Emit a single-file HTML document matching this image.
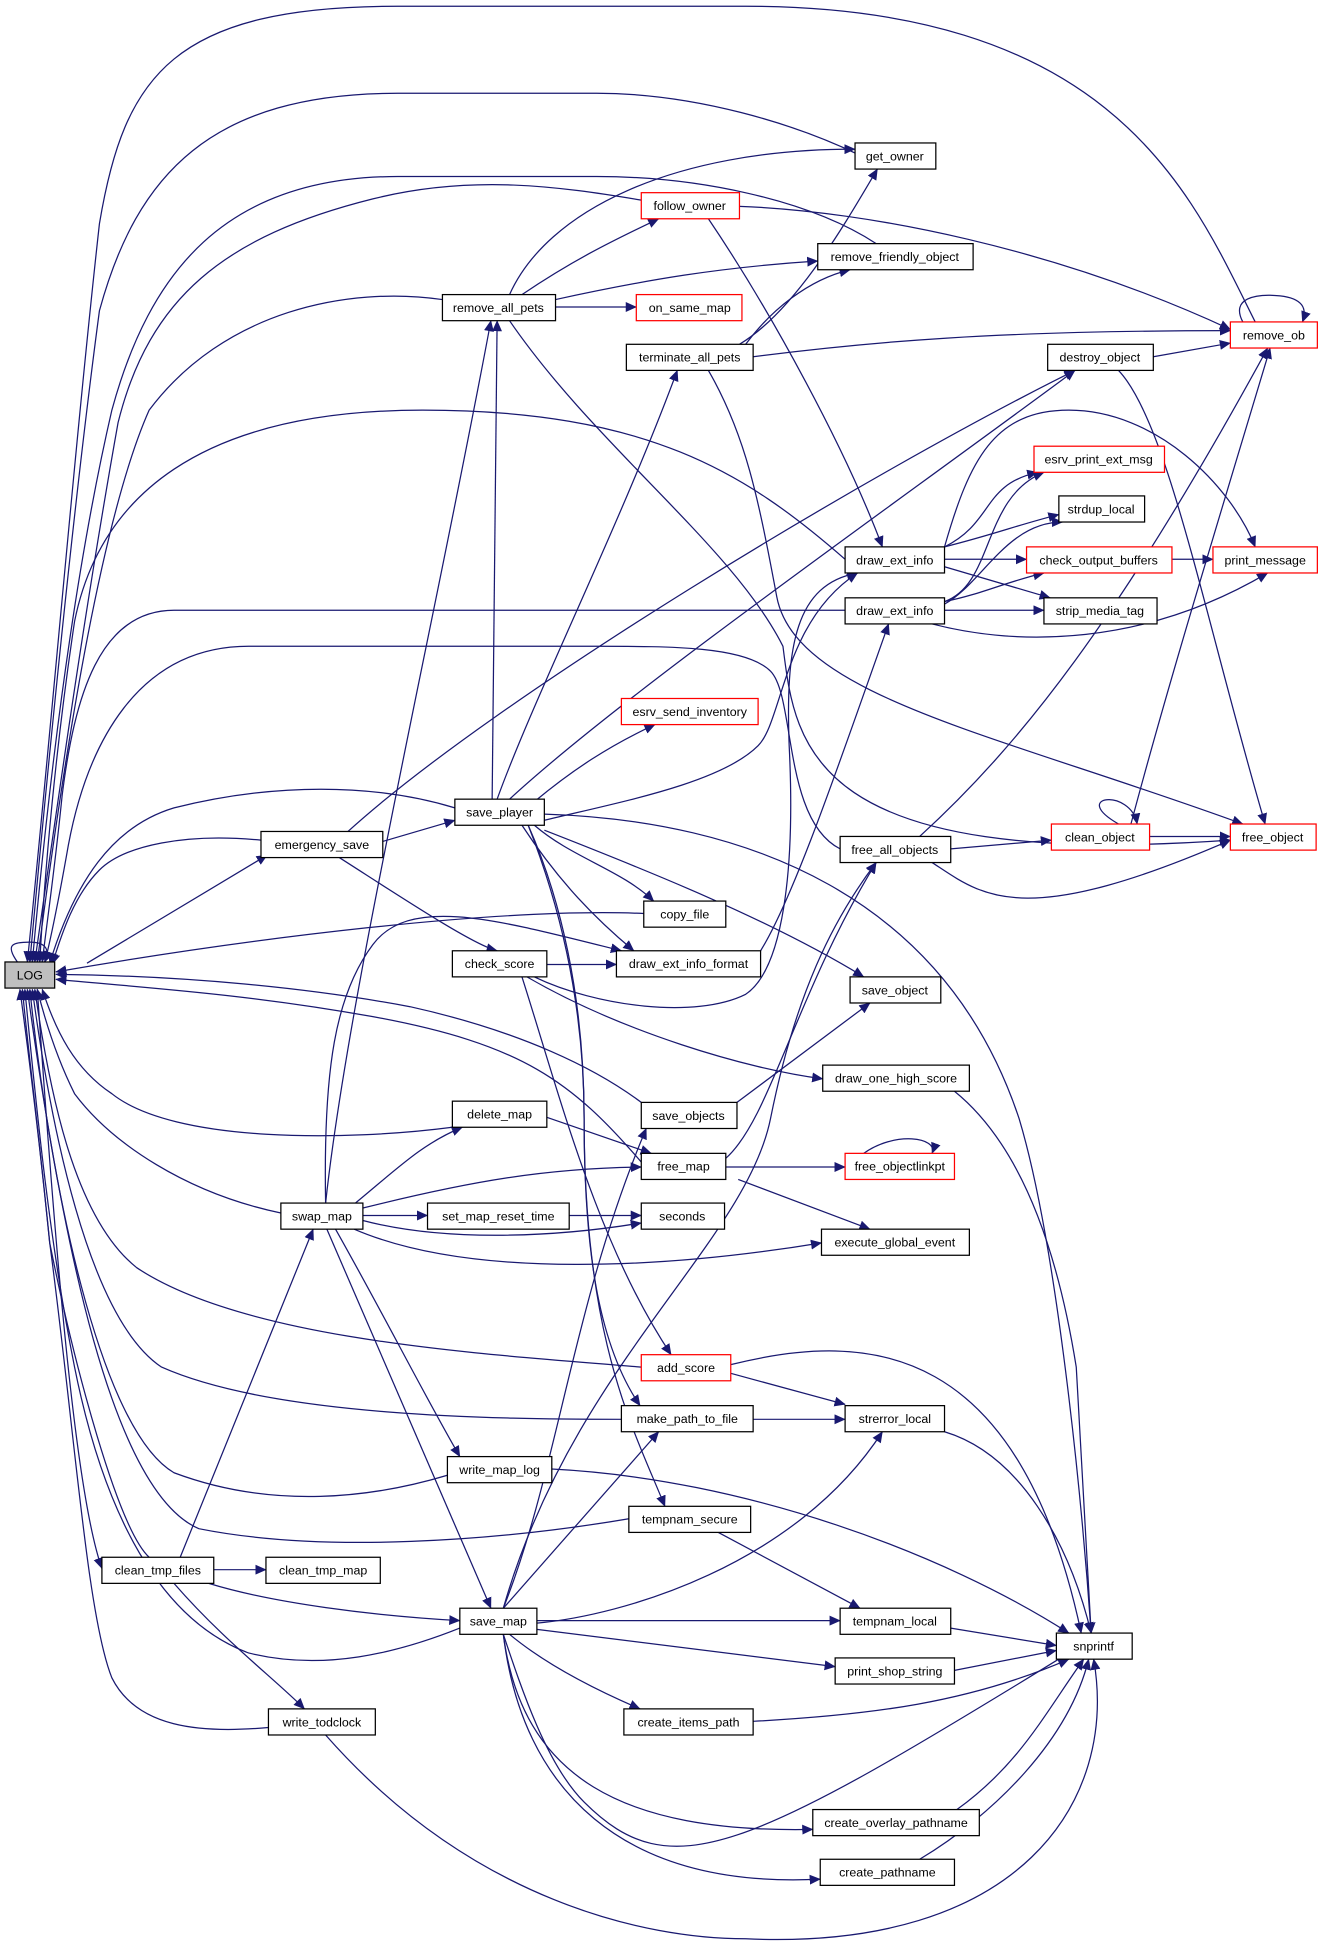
<!DOCTYPE html>
<html><head><meta charset="utf-8"><style>
html,body{margin:0;padding:0;background:#fff;}
svg{display:block;}
text{font-family:"Liberation Sans",Arial,sans-serif;font-size:10px;fill:#000;text-anchor:middle;}
.e{fill:none;stroke:#191970;stroke-width:1;}
.n{fill:#fff;stroke:#000;stroke-width:1;}
.r{fill:#fff;stroke:#ff0000;stroke-width:1;}
</style></head><body>
<svg width="1336" height="1955" viewBox="0 0 1075 1573" xmlns="http://www.w3.org/2000/svg">
<defs><marker id="a" markerWidth="9" markerHeight="8" refX="8.5" refY="4" orient="auto" markerUnits="userSpaceOnUse"><path d="M0,0 L9,4 L0,8 z" fill="#191970"/></marker></defs>
<g class="e" marker-end="url(#a)">
<!-- into LOG -->
<path d="M1010,259 C960,160 900,5 600,5 L320,5 C140,5 100,60 80,180 C60,360 40,600 22,774"/>
<path d="M690,124 C640,100 560,75 480,75 L320,75 C170,75 110,140 80,250 C60,400 40,600 24,774"/>
<path d="M705,196 C650,160 560,142 480,142 L320,142 C180,142 120,220 90,330 C60,460 40,620 26,774"/>
<path d="M516,161 C450,150 380,140 300,160 C180,190 120,240 95,340 C70,480 50,620 28,774"/>
<path d="M356,241 C280,230 180,250 120,330 C80,420 50,620 30,774"/>
<path d="M680,450 C600,380 520,330 340,330 C160,330 80,400 60,500 C45,600 36,700 32,774"/>
<path d="M680,491 L140,491 C80,491 60,560 50,640 C44,700 38,740 34,774"/>
<path d="M676,683 C630,660 640,560 620,540 C600,520 540,520 480,520 L200,520 C110,520 70,600 55,680 C48,720 40,760 36,774"/>
<path d="M366,650 C300,630 220,630 140,650 C90,665 60,710 40,775"/>
<path d="M210,676 C150,670 100,680 80,700 C60,720 50,750 42,776"/>
<path d="M518,735 C400,730 200,755 45,782"/>
<path d="M516,887 C480,860 420,830 330,810 C250,795 150,785 45,784"/>
<path d="M516,935 C460,870 420,840 300,818 C200,800 120,795 45,788"/>
<path d="M364,907 C280,918 140,920 90,880 C60,860 45,830 34,796"/>
<path d="M226,976 C150,960 90,920 60,880 C45,850 36,820 30,796"/>
<path d="M516,1100 C400,1090 200,1080 110,1020 C60,980 40,880 28,796"/>
<path d="M500,1142 C400,1142 220,1140 130,1100 C70,1060 40,900 26,796"/>
<path d="M360,1187 C300,1205 220,1215 140,1185 C80,1150 40,950 24,796"/>
<path d="M506,1222 C400,1240 260,1250 160,1230 C90,1200 50,1000 22,796"/>
<path d="M370,1310 C320,1330 260,1345 200,1330 C120,1300 80,1200 60,1100 C40,1000 30,900 20,796"/>
<path d="M216,1390 C160,1395 110,1390 90,1350 C70,1300 60,1150 40,1000 C30,900 22,840 18,796"/>
<path d="M120,1253 C95,1230 60,1100 40,1000 C30,900 22,840 16,796"/>
<path d="M14,774 C4,760 10,758 24,758 C38,758 40,765 36,774"/>
<path d="M30,796 C44,1000 60,1200 82,1262"/>
<path d="M70,775 L215,688"/>
<!-- top area -->
<path d="M410,237 C440,170 540,120 688,120"/>
<path d="M420,237 C460,210 490,195 530,176"/>
<path d="M447,241 C520,225 580,215 658,210"/>
<path d="M447,247 L512,247"/>
<path d="M410,258 C480,360 590,440 630,520 C640,600 650,700 990,676"/>
<path d="M595,166 C700,170 850,200 990,265"/>
<path d="M570,176 C620,250 680,360 710,440"/>
<path d="M595,277 C640,250 680,180 706,136"/>
<path d="M600,277 C620,250 650,225 684,217"/>
<path d="M606,287 C700,275 800,266 990,266"/>
<path d="M570,298 C600,350 610,400 625,480 C640,560 800,590 1000,663"/>
<path d="M928,287 L990,276"/>
<path d="M900,298 C940,340 970,500 1018,663"/>
<path d="M1000,259 C990,240 1010,236 1030,238 C1048,240 1052,248 1048,259"/>
<!-- draw_ext_info 1 -->
<path d="M760,440 C800,420 790,390 835,380"/>
<path d="M760,440 C800,430 820,422 852,414"/>
<path d="M760,450 L826,450"/>
<path d="M760,456 L845,481"/>
<path d="M760,440 C780,370 800,330 860,330 C930,330 990,390 1010,440"/>
<!-- draw_ext_info 2 -->
<path d="M760,484 C800,470 790,400 840,380"/>
<path d="M760,486 C790,470 810,420 855,420"/>
<path d="M760,484 C790,478 810,468 840,461"/>
<path d="M760,491 L840,491"/>
<path d="M750,502 C820,520 920,520 1020,461"/>
<path d="M943,450 L976,450"/>
<!-- save_player -->
<path d="M396,643 L400,258"/>
<path d="M400,643 C430,560 500,420 545,298"/>
<path d="M410,643 C500,560 700,420 865,298"/>
<path d="M438,660 C500,645 580,630 610,600 C630,580 630,500 690,461"/>
<path d="M430,645 C460,620 490,600 527,583"/>
<path d="M430,664 C460,690 500,700 526,725"/>
<path d="M420,664 C450,710 480,740 510,765"/>
<path d="M438,668 C520,700 620,740 695,786"/>
<path d="M438,655 C600,660 760,720 820,900 C850,1000 870,1200 878,1314"/>
<path d="M425,664 C450,720 470,800 470,900 C470,1000 480,1080 515,1131"/>
<path d="M425,664 C455,740 470,820 470,900 C470,1080 510,1150 535,1212"/>
<!-- emergency_save -->
<path d="M308,677 L366,660"/>
<path d="M280,669 C400,560 700,380 865,298"/>
<path d="M273,690 C320,720 380,760 400,765"/>
<!-- free_all_objects -->
<path d="M765,683 L846,676"/>
<path d="M750,694 C790,720 820,750 990,676"/>
<path d="M740,673 C820,600 900,500 1020,280"/>
<path d="M900,663 C860,640 910,634 915,663"/>
<path d="M925,673 L990,673"/>
<path d="M910,663 C940,550 980,420 1022,280"/>
<!-- check_score -->
<path d="M440,776 L496,776"/>
<path d="M424,786 C500,830 600,860 662,868"/>
<path d="M420,786 C450,880 480,1000 540,1090"/>
<path d="M430,786 C480,810 560,820 600,800 C630,780 640,700 635,600 C632,520 640,470 690,461"/>
<path d="M612,765 C640,720 680,600 715,502"/>
<!-- save_objects -->
<path d="M593,887 L700,807"/>
<!-- free_map -->
<path d="M584,939 L680,939"/>
<path d="M594,949 L700,989"/>
<path d="M584,932 C620,900 640,800 705,694"/>
<path d="M695,928 C720,910 755,915 750,928"/>
<!-- swap_map -->
<path d="M286,968 C320,940 340,920 372,907"/>
<path d="M292,972 C380,950 440,940 516,939"/>
<path d="M292,978 L344,978"/>
<path d="M292,982 C360,1000 450,995 516,984"/>
<path d="M285,989 C380,1030 540,1020 661,1000"/>
<path d="M263,989 L395,1294"/>
<path d="M270,989 C310,1060 340,1120 370,1172"/>
<path d="M262,968 C280,800 350,500 395,258"/>
<path d="M262,968 C260,860 270,800 300,760 C330,720 400,740 500,765"/>
<path d="M458,978 L516,978"/>
<path d="M440,899 L524,928"/>
<!-- add_score etc -->
<path d="M588,1105 L680,1130"/>
<path d="M588,1098 C700,1070 820,1080 870,1314"/>
<path d="M606,1142 L680,1142"/>
<path d="M760,1152 C820,1170 860,1240 878,1314"/>
<path d="M444,1182 C600,1190 760,1250 860,1314"/>
<path d="M578,1233 L692,1294"/>
<!-- clean_tmp_files -->
<path d="M172,1263 L214,1263"/>
<path d="M145,1253 L252,989"/>
<path d="M168,1274 C220,1290 300,1300 370,1304"/>
<path d="M140,1274 C180,1320 220,1350 245,1375"/>
<!-- save_map -->
<path d="M432,1304 L676,1304"/>
<path d="M432,1306 C500,1300 640,1260 710,1152"/>
<path d="M432,1311 L672,1341"/>
<path d="M410,1315 C440,1340 480,1360 515,1375"/>
<path d="M405,1294 L530,1152"/>
<path d="M405,1294 C450,1180 460,1050 520,908"/>
<path d="M405,1294 C460,1100 600,1000 620,900 C640,800 670,740 705,694"/>
<path d="M405,1315 C420,1360 440,1420 470,1450 C540,1520 600,1490 860,1330"/>
<path d="M405,1315 C420,1430 500,1475 654,1472"/>
<path d="M405,1315 C420,1440 500,1520 660,1512"/>
<path d="M765,1310 L850,1324"/>
<path d="M768,1344 L850,1328"/>
<path d="M606,1385 C700,1380 780,1370 860,1335"/>
<path d="M770,1456 C820,1420 840,1380 872,1335"/>
<path d="M740,1496 C800,1460 860,1400 876,1335"/>
<path d="M262,1396 C380,1530 520,1560 600,1560 C820,1570 900,1450 880,1335"/>
<path d="M768,878 C820,920 850,1000 866,1100 C872,1200 876,1280 878,1314"/>
</g>
<!-- nodes -->
<g>
<rect class="n" x="4" y="774" width="40" height="21" fill="#bfbfbf" style="fill:#bfbfbf"/><text x="24" y="788">LOG</text>
<rect class="n" x="688" y="115" width="65" height="21"/><text x="720" y="129">get_owner</text>
<rect class="r" x="516" y="155" width="79" height="21"/><text x="555" y="169">follow_owner</text>
<rect class="n" x="658" y="196" width="125" height="21"/><text x="720" y="210">remove_friendly_object</text>
<rect class="n" x="356" y="237" width="91" height="21"/><text x="401" y="251">remove_all_pets</text>
<rect class="r" x="512" y="237" width="85" height="21"/><text x="555" y="251">on_same_map</text>
<rect class="n" x="504" y="277" width="102" height="21"/><text x="555" y="291">terminate_all_pets</text>
<rect class="r" x="990" y="259" width="70" height="21"/><text x="1025" y="273">remove_ob</text>
<rect class="n" x="843" y="277" width="85" height="21"/><text x="885" y="291">destroy_object</text>
<rect class="r" x="832" y="359" width="105" height="21"/><text x="884" y="373">esrv_print_ext_msg</text>
<rect class="n" x="852" y="399" width="69" height="21"/><text x="886" y="413">strdup_local</text>
<rect class="n" x="680" y="440" width="80" height="21"/><text x="720" y="454">draw_ext_info</text>
<rect class="r" x="826" y="440" width="117" height="21"/><text x="884" y="454">check_output_buffers</text>
<rect class="r" x="976" y="440" width="84" height="21"/><text x="1018" y="454">print_message</text>
<rect class="n" x="680" y="481" width="80" height="21"/><text x="720" y="495">draw_ext_info</text>
<rect class="n" x="840" y="481" width="91" height="21"/><text x="885" y="495">strip_media_tag</text>
<rect class="r" x="500" y="562" width="110" height="21"/><text x="555" y="576">esrv_send_inventory</text>
<rect class="n" x="366" y="643" width="72" height="21"/><text x="402" y="657">save_player</text>
<rect class="n" x="210" y="669" width="98" height="21"/><text x="259" y="683">emergency_save</text>
<rect class="n" x="676" y="673" width="89" height="21"/><text x="720" y="687">free_all_objects</text>
<rect class="r" x="846" y="663" width="79" height="21"/><text x="885" y="677">clean_object</text>
<rect class="r" x="990" y="663" width="69" height="21"/><text x="1024" y="677">free_object</text>
<rect class="n" x="518" y="725" width="66" height="21"/><text x="551" y="739">copy_file</text>
<rect class="n" x="364" y="765" width="76" height="21"/><text x="402" y="779">check_score</text>
<rect class="n" x="496" y="765" width="116" height="21"/><text x="554" y="779">draw_ext_info_format</text>
<rect class="n" x="684" y="786" width="73" height="21"/><text x="720" y="800">save_object</text>
<rect class="n" x="662" y="857" width="118" height="21"/><text x="721" y="871">draw_one_high_score</text>
<rect class="n" x="364" y="886" width="76" height="21"/><text x="402" y="900">delete_map</text>
<rect class="n" x="516" y="887" width="77" height="21"/><text x="554" y="901">save_objects</text>
<rect class="n" x="516" y="928" width="68" height="21"/><text x="550" y="942">free_map</text>
<rect class="r" x="680" y="928" width="88" height="21"/><text x="724" y="942">free_objectlinkpt</text>
<rect class="n" x="226" y="968" width="66" height="21"/><text x="259" y="982">swap_map</text>
<rect class="n" x="344" y="968" width="114" height="21"/><text x="401" y="982">set_map_reset_time</text>
<rect class="n" x="516" y="968" width="67" height="21"/><text x="549" y="982">seconds</text>
<rect class="n" x="661" y="989" width="119" height="21"/><text x="720" y="1003">execute_global_event</text>
<rect class="r" x="516" y="1090" width="72" height="21"/><text x="552" y="1104">add_score</text>
<rect class="n" x="500" y="1131" width="106" height="21"/><text x="553" y="1145">make_path_to_file</text>
<rect class="n" x="680" y="1131" width="80" height="21"/><text x="720" y="1145">strerror_local</text>
<rect class="n" x="360" y="1172" width="84" height="21"/><text x="402" y="1186">write_map_log</text>
<rect class="n" x="506" y="1212" width="98" height="21"/><text x="555" y="1226">tempnam_secure</text>
<rect class="n" x="82" y="1253" width="90" height="21"/><text x="127" y="1267">clean_tmp_files</text>
<rect class="n" x="214" y="1253" width="92" height="21"/><text x="260" y="1267">clean_tmp_map</text>
<rect class="n" x="370" y="1294" width="62" height="21"/><text x="401" y="1308">save_map</text>
<rect class="n" x="676" y="1294" width="89" height="21"/><text x="720" y="1308">tempnam_local</text>
<rect class="n" x="850" y="1314" width="61" height="21"/><text x="880" y="1328">snprintf</text>
<rect class="n" x="672" y="1334" width="96" height="21"/><text x="720" y="1348">print_shop_string</text>
<rect class="n" x="502" y="1375" width="104" height="21"/><text x="554" y="1389">create_items_path</text>
<rect class="n" x="216" y="1375" width="86" height="21"/><text x="259" y="1389">write_todclock</text>
<rect class="n" x="654" y="1456" width="134" height="21"/><text x="721" y="1470">create_overlay_pathname</text>
<rect class="n" x="660" y="1496" width="108" height="21"/><text x="714" y="1510">create_pathname</text>
</g>
</svg>
</body></html>
